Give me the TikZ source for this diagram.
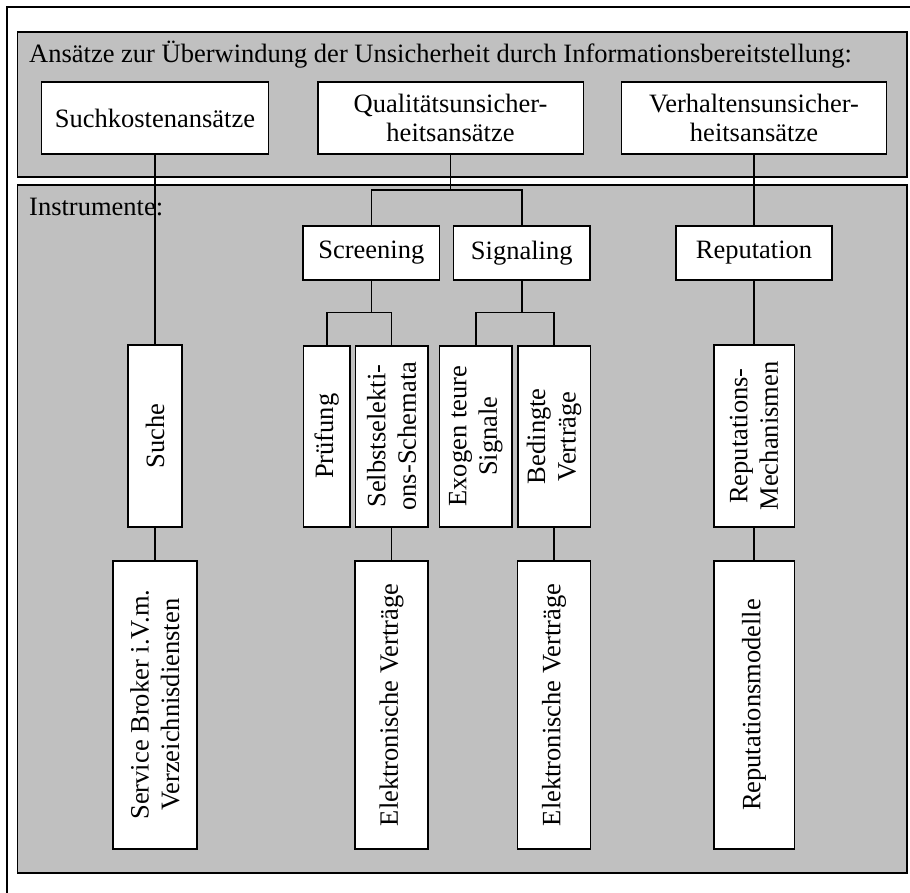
\documentclass[tikz,border=0pt]{standalone}
\usepackage{fontspec}
\setmainfont{Liberation Serif}
\definecolor{panelgray}{RGB}{192,192,192}
\tikzset{
  panel/.style={draw=black, fill=panelgray, line width=1.4pt},
  hbox/.style={draw=black, fill=white, line width=1.6pt, inner sep=0pt,
    align=center, font=\fontsize{26.5}{29}\selectfont},
  vbox/.style={hbox, rotate=90, font=\fontsize{26.5}{30.5}\selectfont},
  link/.style={draw=black, line width=1.6pt},
  heading/.style={anchor=base west, inner sep=0pt, font=\fontsize{26.5}{29}\selectfont}
}
\begin{document}
\begin{tikzpicture}[x=1pt, y=-1pt]
  \useasboundingbox (0,0) rectangle (910,893);
  \fill[white] (0,0) rectangle (910,893);

  % outer frame (runs past the right and bottom edges)
  \draw[line width=1.1pt] (7,900) -- (7,7) -- (920,7);

  % the two gray panels
  \draw[panel] (17.5,32) rectangle (907,177);
  \draw[panel] (17.5,185) rectangle (907,873);
  \node[heading] (t1) at (29,62.3) {Ansätze zur Überwindung der Unsicherheit durch Informationsbereitstellung:};
  \node[heading] (t2) at (29,215.5) {Instrumente:};

  % approaches
  \node[hbox, minimum width=227pt, minimum height=72pt] (such) at (155,118) {Suchkostenansätze};
  \node[hbox, minimum width=265.6pt, minimum height=72pt] (qual) at (450.5,118) {Qualitätsunsicher-\\heitsansätze};
  \node[hbox, minimum width=265pt, minimum height=72pt] (verh) at (754,118) {Verhaltensunsicher-\\heitsansätze};

  % second level
  \node[hbox, minimum width=136.6pt, minimum height=54pt] (scr) at (371.3,253) {Screening};
  \node[hbox, minimum width=136.7pt, minimum height=54pt] (sig) at (521.7,253) {Signaling};
  \node[hbox, minimum width=156pt, minimum height=54pt] (rep) at (754,253) {Reputation};

  % instruments (rotated)
  \node[vbox, minimum width=182pt, minimum height=54pt] (suche) at (155,436) {Suche};
  \node[vbox, minimum width=181pt, minimum height=46.7pt] (pruef) at (326.7,436.2) {Prüfung};
  \node[vbox, minimum width=181pt, minimum height=72.4pt] (selbst) at (391.5,436.2) {Selbstselekti-\\ons-Schemata};
  \node[vbox, minimum width=181pt, minimum height=72.7pt] (exo) at (475.7,436.2) {Exogen teure\\Signale};
  \node[vbox, minimum width=181pt, minimum height=72.6pt] (bed) at (554,436.2) {Bedingte\\Verträge};
  \node[vbox, minimum width=182pt, minimum height=80.6pt] (repm) at (754,436) {Reputations-\\Mechanismen};

  % realisations
  \node[vbox, minimum width=288pt, minimum height=83.6pt] (sb) at (155,704.7) {Service Broker i.V.m.\\Verzeichnisdiensten};
  \node[vbox, minimum width=288pt, minimum height=72.7pt] (ev1) at (391.5,705) {Elektronische Verträge};
  \node[vbox, minimum width=288pt, minimum height=72.7pt] (ev2) at (554,705) {Elektronische Verträge};
  \node[vbox, minimum width=288pt, minimum height=80.6pt] (repmod) at (754,705) {Reputationsmodelle};

  % branch points
  \coordinate (qb) at (450.5,190);
  \coordinate (sb1) at (371.3,312.5);
  \coordinate (sb2) at (521.7,312.5);

  % connectors
  \draw[link] (such.south) -- (suche.east);
  \draw[link] (suche.west) -- (sb.east);

  \draw[link] (qual.south) -- (qb);
  \draw[link] (scr.north) |- (qb) -| (sig.north);
  \draw[link] (scr.south) -- (sb1);
  \draw[link] (pruef.east) |- (sb1) -| (selbst.east);
  \draw[link] (sig.south) -- (sb2);
  \draw[link] (exo.east) |- (sb2) -| (bed.east);
  \draw[link] (selbst.west) -- (ev1.east);
  \draw[link] (bed.west) -- (ev2.east);

  \draw[link] (verh.south) -- (rep.north);
  \draw[link] (rep.south) -- (repm.east);
  \draw[link] (repm.west) -- (repmod.east);
\end{tikzpicture}
\end{document}
